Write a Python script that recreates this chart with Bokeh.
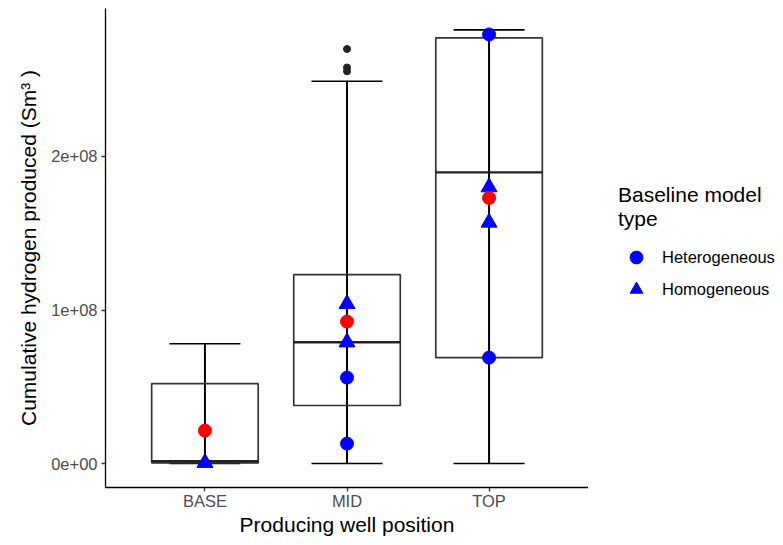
from bokeh.plotting import figure
from bokeh.layouts import row
from bokeh.models import FactorRange, Range1d, FixedTicker, Legend, LegendItem, ColumnDataSource
from bokeh.embed import file_html
from bokeh.resources import INLINE

categories = ["BASE", "MID", "TOP"]
lower_whisker = [0.0, 0.0, 0.0]
q1 = [0.005e8, 0.378e8, 0.69e8]
median = [0.015e8, 0.79e8, 1.896e8]
q3 = [0.52e8, 1.23e8, 2.773e8]
upper_whisker = [0.78e8, 2.49e8, 2.825e8]

outlier_cat = ["MID", "MID", "MID"]
outlier_val = [2.70e8, 2.58e8, 2.555e8]

mean_val = [0.215e8, 0.925e8, 1.73e8]

hetero_cat = ["MID", "MID", "TOP", "TOP"]
hetero_val = [0.56e8, 0.13e8, 2.795e8, 0.69e8]

homo_cat = ["BASE", "MID", "MID", "TOP", "TOP"]
homo_val = [0.005e8, 1.04e8, 0.79e8, 1.80e8, 1.57e8]

legend_labels = ["Heterogeneous", "Homogeneous"]
legend_title = "Baseline model\ntype"

y_ticks = [0, 1e8, 2e8]
y_tick_labels = ["0e+00", "1e+08", "2e+08"]

FONT = "Liberation Sans"
BLUE = "#0000FF"
RED = "#FF0000"

p = figure(
    x_range=FactorRange(factors=categories, range_padding=0.2, range_padding_units="absolute"),
    y_range=Range1d(-0.156e8, 2.964e8),
    frame_width=483, frame_height=479,
    min_border_left=105, min_border_right=0, min_border_top=8, min_border_bottom=50,
    output_backend="svg", toolbar_location=None,
)
p.outline_line_color = None
p.xgrid.grid_line_color = None
p.ygrid.grid_line_color = None

box = ColumnDataSource(dict(cat=categories, lo=lower_whisker, q1=q1, med=median, q3=q3, hi=upper_whisker))

# whisker stems
p.segment(x0="cat", x1="cat", y0="lo", y1="hi", source=box, line_color="black", line_width=2)
# whisker caps
p.vbar(x="cat", top="hi", bottom="hi", width=0.5, source=box, fill_color=None, line_color="black", line_width=1.6)
p.vbar(x="cat", top="lo", bottom="lo", width=0.5, source=box, fill_color=None, line_color="black", line_width=1.6)
# boxes
p.vbar(x="cat", top="q3", bottom="q1", width=0.75, source=box, fill_color=None, line_color="#333333", line_width=1.7)
# median
p.vbar(x="cat", top="med", bottom="med", width=0.75, source=box, fill_color=None, line_color="#222222", line_width=2.3)

# outliers
p.scatter(x=outlier_cat, y=outlier_val, size=7, color="#222222")

# points
p.scatter(x=hetero_cat, y=hetero_val, marker="circle", size=13, fill_color=BLUE, line_color=BLUE)
p.scatter(x=homo_cat, y=homo_val, marker="triangle", size=16, fill_color=BLUE, line_color=BLUE)
p.scatter(x=categories, y=mean_val, marker="circle", size=13, fill_color=RED, line_color=RED)

# axes
p.yaxis.ticker = FixedTicker(ticks=y_ticks)
p.yaxis.major_label_overrides = {t: l for t, l in zip(y_ticks, y_tick_labels)}
for ax in (p.xaxis[0], p.yaxis[0]):
    ax.axis_line_color = "black"
    ax.axis_line_width = 1.3
    ax.major_tick_line_color = "#333333"
    ax.major_tick_line_width = 1.3
    ax.major_tick_out = 4
    ax.major_tick_in = 0
    ax.minor_tick_line_color = None
    ax.major_label_text_font = FONT
    ax.major_label_text_font_size = "16.5px"
    ax.major_label_text_color = "#4D4D4D"
    ax.axis_label_text_font = FONT
    ax.axis_label_text_font_size = "21px"
    ax.axis_label_text_font_style = "normal"
    ax.axis_label_text_color = "black"
p.xaxis.axis_label = "Producing well position"
p.yaxis.axis_label = "Cumulative hydrogen produced (Sm\u00b3 )"
p.xaxis.major_label_standoff = 0
p.xaxis.axis_label_standoff = 0
p.yaxis.major_label_standoff = 4
p.yaxis.axis_label_standoff = 8

# legend panel
lf = figure(
    width=187, height=537, min_border=0, x_range=Range1d(0, 1), y_range=Range1d(0, 1),
    x_axis_type=None, y_axis_type=None,
    output_backend="svg", toolbar_location=None,
)
lf.outline_line_color = None
lf.xgrid.grid_line_color = None
lf.ygrid.grid_line_color = None
# key glyphs (placed outside the visible range; used only for the legend keys)
r_het = lf.scatter(x=[-5], y=[-5], marker="circle", size=13, fill_color=BLUE, line_color=BLUE)
r_hom = lf.scatter(x=[-5], y=[-5], marker="triangle", size=16, fill_color=BLUE, line_color=BLUE)

legend = Legend(
    items=[LegendItem(label=legend_labels[0], renderers=[r_het]),
           LegendItem(label=legend_labels[1], renderers=[r_hom])],
    title=legend_title,
    location=(30, 181),
    border_line_color=None,
    background_fill_alpha=0,
    title_text_font=FONT, title_text_font_size="21px", title_text_font_style="normal",
    title_text_color="black",
    label_text_font=FONT, label_text_font_size="16.5px", label_text_color="black",
    glyph_width=36, glyph_height=32, spacing=0, label_standoff=8,
    margin=0, padding=0, title_standoff=10,
)
lf.add_layout(legend, "center")

layout = row(p, lf, spacing=0)
open("out.html", "w").write(file_html(layout, INLINE))
